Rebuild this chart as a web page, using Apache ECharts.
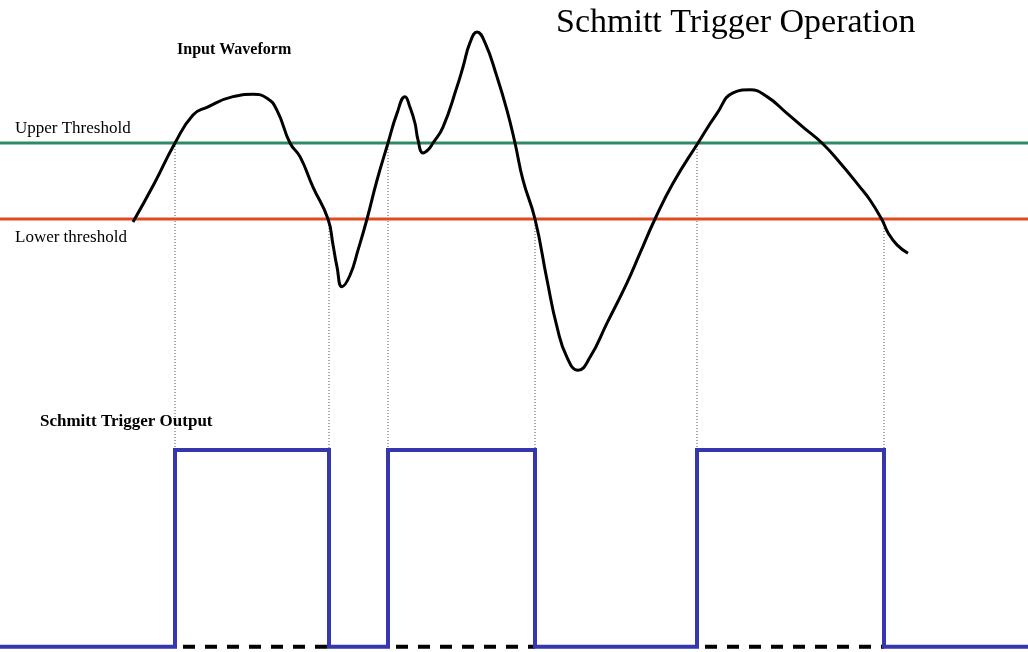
<!DOCTYPE html>
<html>
<head>
<meta charset="utf-8">
<script src="https://cdn.jsdelivr.net/npm/echarts@6/dist/echarts.min.js"></script>
<style>html,body{margin:0;padding:0;background:#fff}#c{width:1028px;height:652px}</style>
</head>
<body>
<div id="c"></div>
<script>
// ---- Data ----
// time (arbitrary units) of input waveform samples
const inputTime = [133,154,175,193,207,233,253,267,277,290,300,313,328,333,337,342,350,358,367,377,388,397,405,410,415,418,423,428,433,443,457,463,470,477,485,497,507,515,523,535,547,557,567,578,590,607,627,640,655,673,698,717,733,750,767,787,803,822,840,860,870,882,888,897,908];
// input voltage (V) at those times
const inputVolt = [1.96,2.46,3.00,3.37,3.47,3.61,3.64,3.59,3.43,3.00,2.82,2.42,2.00,1.66,1.37,1.11,1.26,1.59,2.00,2.51,3.00,3.39,3.61,3.47,3.26,3.04,2.87,2.91,3.00,3.21,3.74,4.00,4.32,4.46,4.32,3.87,3.43,3.00,2.51,2.00,1.20,0.58,0.18,0.01,0.18,0.63,1.16,1.55,2.00,2.47,3.00,3.39,3.66,3.70,3.61,3.39,3.21,3.00,2.74,2.42,2.25,1.99,1.82,1.66,1.55];
const upperThreshold = 3.0;
const lowerThreshold = 2.0;
// switching instants of the Schmitt trigger output and the new level after each
const edgeTimes  = [175, 329, 388, 535, 697, 884];
const edgeLevels = [1, 0, 1, 0, 1, 0];
const timeStart = 0, timeEnd = 1028;

// ---- Build series from the data ----
const inputData = inputTime.map((t, i) => [t, inputVolt[i]]);
const outData = [[timeStart, 0]];
let lvl = 0;
edgeTimes.forEach((t, i) => { outData.push([t, lvl]); lvl = edgeLevels[i]; outData.push([t, lvl]); });
outData.push([timeEnd, lvl]);
// dashed baseline under the high pulses
const dashSeries = [];
edgeTimes.forEach((t, i) => {
  if (edgeLevels[i] === 1 && i + 1 < edgeTimes.length) {
    dashSeries.push({
      type: 'line', xAxisIndex: 0, yAxisIndex: 1, silent: true, symbol: 'none', z: 2,
      data: [[t + 8, 0], [edgeTimes[i + 1], 0]],
      lineStyle: { color: '#000', width: 4, type: [12, 10] }
    });
  }
});

const serif = 'Liberation Serif';
const txt = (text, left, top, size, bold) => ({
  text, left, top, padding: 0,
  textStyle: { fontFamily: serif, fontSize: size, fontWeight: bold ? 'bold' : 'normal', color: '#000' }
});
const chart = echarts.init(document.getElementById('c'), null, { renderer: 'canvas' });
const option = {
  animation: false,
  backgroundColor: '#fff',
  title: [
    txt('Schmitt Trigger Operation', 556, 6, 34, false),
    txt('Input Waveform', 177, 42, 16, true),
    txt('Upper Threshold', 15, 120, 17, false),
    txt('Lower threshold', 15, 229, 17, false),
    txt('Schmitt Trigger Output', 40, 413, 17, true)
  ],
  grid: { left: 0, right: 0, top: 0, bottom: 0 },
  xAxis: { type: 'value', min: timeStart, max: timeEnd, show: false },
  yAxis: [
    { type: 'value', min: 2 - 433 / 76, max: 2 + 219 / 76, show: false },
    { type: 'value', min: -5.3 / 196.7, max: 646.7 / 196.7, show: false }
  ],
  series: [
    { type: 'line', yAxisIndex: 0, silent: true, symbol: 'none', z: 3,
      data: [[timeStart, lowerThreshold], [timeEnd, lowerThreshold]],
      lineStyle: { color: '#e04a1e', width: 3 } },
    { type: 'line', yAxisIndex: 0, silent: true, symbol: 'none', z: 3,
      data: [[timeStart, upperThreshold], [timeEnd, upperThreshold]],
      lineStyle: { color: '#2e8a64', width: 3 } },
    { type: 'line', yAxisIndex: 0, silent: true, symbol: 'none', z: 5, smooth: 0.5,
      data: inputData, lineStyle: { color: '#000', width: 3 } },
    ...dashSeries,
    { type: 'line', yAxisIndex: 1, silent: true, symbol: 'none', z: 4,
      data: outData, lineStyle: { color: '#3636ae', width: 4, join: 'miter' } }
  ]
};
chart.setOption(option);

// guide lines: from threshold crossing down to the output high level
const guides = edgeTimes.map((t, i) => {
  const th = edgeLevels[i] === 1 ? upperThreshold : lowerThreshold;
  const py = chart.convertToPixel({ yAxisIndex: 0 }, th);
  const topOut = chart.convertFromPixel({ yAxisIndex: 1 }, py);
  return { type: 'line', xAxisIndex: 0, yAxisIndex: 1, silent: true, symbol: 'none', z: 1,
    data: [[t, topOut], [t, 1]], lineStyle: { color: '#555', width: 1, type: [1, 2] } };
});
chart.setOption({ series: option.series.concat(guides) });
</script>
</body>
</html>
